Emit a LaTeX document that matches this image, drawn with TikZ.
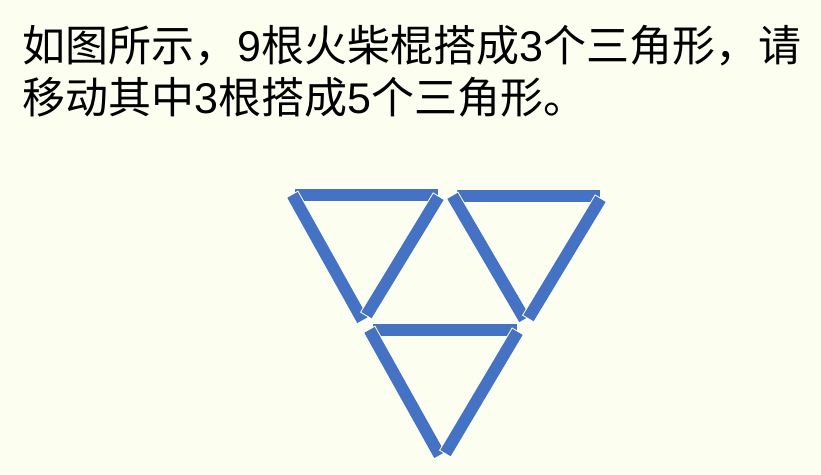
\documentclass[tikz,border=0pt]{standalone}
\usepackage{fontspec}
\setmainfont{Noto Sans CJK SC}
\newfontfamily\latinfont{Liberation Sans}
\definecolor{bgcream}{RGB}{252,255,240}
\definecolor{stickblue}{RGB}{68,114,196}
\newcommand\matchstick[2]{%
  \draw[stickout] (#1) -- (#2);
  \draw[stickin, shorten <=1bp, shorten >=1bp] (#1) -- (#2);}
\begin{document}
\begin{tikzpicture}[x=1bp,y=-1bp,
  stickout/.style={white, line width=14bp},
  stickin/.style={stickblue, line width=12bp},
  title/.style={anchor=base west, inner sep=0pt, font=\fontsize{43bp}{52bp}\selectfont}]
\fill[bgcream] (0,0) rectangle (821,475);
\useasboundingbox (0,0) rectangle (821,475);
\node[title] (line1) at (22,62) {如图所示，{\latinfont 9}根火柴棍搭成{\latinfont 3}个三角形，请};
\node[title] (line2) at (22,114) {移动其中{\latinfont 3}根搭成{\latinfont 5}个三角形。};
% triangle A
\coordinate (at1) at (294,195); \coordinate (at2) at (439,195);
\coordinate (al1) at (292,194); \coordinate (al2) at (363,321);
\coordinate (ar1) at (439,196); \coordinate (ar2) at (366,316);
% triangle B
\coordinate (bt1) at (456,196); \coordinate (bt2) at (601,196);
\coordinate (bl1) at (452,195); \coordinate (bl2) at (525,320);
\coordinate (br1) at (601,198); \coordinate (br2) at (528,319);
% triangle C
\coordinate (ct1) at (372,330); \coordinate (ct2) at (518,330);
\coordinate (cl1) at (369,329); \coordinate (cl2) at (440,456);
\coordinate (cr1) at (518,331); \coordinate (cr2) at (445,454);
\matchstick{at1}{at2}
\matchstick{al1}{al2}
\matchstick{ar1}{ar2}
\matchstick{bt1}{bt2}
\matchstick{bl1}{bl2}
\matchstick{br1}{br2}
\matchstick{ct1}{ct2}
\matchstick{cl1}{cl2}
\matchstick{cr1}{cr2}
\end{tikzpicture}
\end{document}
